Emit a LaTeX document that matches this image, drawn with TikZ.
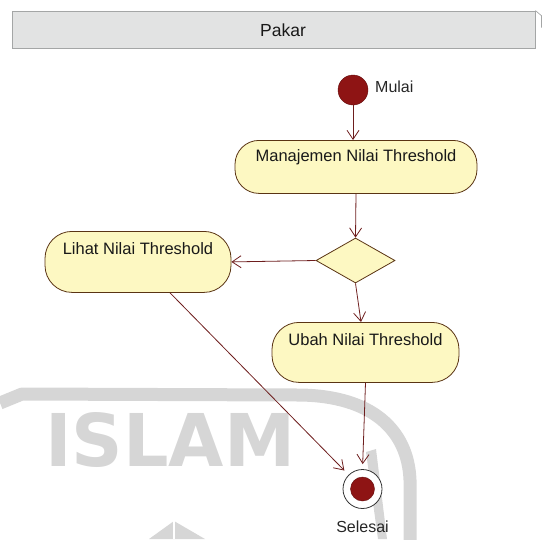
\documentclass[tikz,border=0pt]{standalone}
\usepackage{fontspec}
\usepackage{graphicx}
\setmainfont{Liberation Sans}
\newfontfamily\markfont{DejaVu Sans}
\usetikzlibrary{shapes.geometric,arrows.meta,calc}

\definecolor{actfill}{HTML}{FDF8C2}
\definecolor{actline}{HTML}{5A3414}
\definecolor{flow}{HTML}{6E1E1E}
\definecolor{dotred}{HTML}{8E1414}
\definecolor{lanefill}{HTML}{E2E3E3}
\definecolor{laneline}{HTML}{A4A6A6}
\definecolor{markgray}{HTML}{D6D6D6}

\tikzset{
  activity/.style={draw=actline, fill=actfill, rounded corners=27pt,
    line width=0.8pt, inner sep=0pt, align=center,
    font=\fontsize{16.5}{18}\selectfont, text=black!90},
  flowline/.style={draw=flow, line width=0.8pt,
    -{Straight Barb[length=9pt,width=12pt]}},
  caption/.style={inner sep=0pt, font=\fontsize{16}{18}\selectfont, text=black!85},
  watermark/.style={draw=markgray, line width=13pt}
}

\begin{document}
\begin{tikzpicture}[x=1pt,y=-1pt]
\useasboundingbox (0,0) rectangle (545,539);

% background logo, light gray
\draw[watermark, line join=bevel] (0,403) -- (22,394) -- (300,395)
  .. controls (372,396) and (408,430) .. (410,480) -- (410,545);
\fill[markgray] (366,452) -- (376,449) -- (387,539) -- (378,539) -- cycle;
\fill[markgray] (149,539) -- (174,521) -- (205,539) -- cycle;
\draw[white, line width=1.2pt] (174,519) -- (174,539);
\node[anchor=north west, inner sep=0pt, text=markgray] (wmtext) at (45,412)
  {\resizebox{250pt}{54pt}{\markfont\bfseries ISLAM}};

% swimlane header
\node[draw=laneline, fill=lanefill, line width=0.8pt, minimum width=523pt,
  minimum height=37pt, inner sep=0pt] (lane) at (273.5,29.5) {};
\draw[laneline, line width=0.7pt] (lane.north east) -- ++(6,5) -- ++(0,12);
\node[inner sep=0pt, font=\fontsize{17.5}{20}\selectfont, text=black!90]
  (lanetitle) at (283,30.5) {Pakar};

% initial node
\node[circle, fill=dotred, draw=dotred!70!black, minimum size=30pt,
  inner sep=0pt] (start) at (353,90) {};
\node[caption, anchor=west] (startlabel) at (375,87) {Mulai};

% activities
\node[activity, rounded corners=24pt, minimum width=242pt, text height=20.75pt,
  text depth=32.25pt] (manage) at (356,140) [anchor=north]
  {Manajemen Nilai Threshold};
\node[diamond, draw=actline, fill=actfill, line width=0.8pt, inner sep=0pt,
  minimum width=79pt, minimum height=45pt] (choice) at (355.5,260.5) {};
\node[activity, minimum width=186pt, text height=22.75pt, text depth=38.25pt]
  (view) at (138,231) [anchor=north] {Lihat Nilai Threshold};
\node[activity, minimum width=187pt, text height=22.75pt, text depth=37.25pt]
  (edit) at (365.5,322) [anchor=north] {Ubah Nilai Threshold};

% final node
\node[circle, draw=black!80, fill=white, line width=0.8pt, minimum size=39pt,
  inner sep=0pt] (final) at (362.5,489) {};
\node[circle, fill=dotred, draw=dotred!70!black, minimum size=24pt,
  inner sep=0pt] (finaldot) at (final.center) {};
\node[caption] (finallabel) at (362.5,527) {Selesai};

% control flows
\draw[flowline] (start) -- (start |- manage.north);
\draw[flowline] (manage.south) -- (choice.north);
\draw[flowline] (choice.west) -- (view.east);
\draw[flowline] (choice.south) -- ([xshift=-4.5pt]edit.north);
\draw[flowline, shorten >=5pt] (edit.south) -- (final.north);
\draw[flowline, shorten >=6pt] ([xshift=32pt]view.south) -- (final);
\end{tikzpicture}
\end{document}
